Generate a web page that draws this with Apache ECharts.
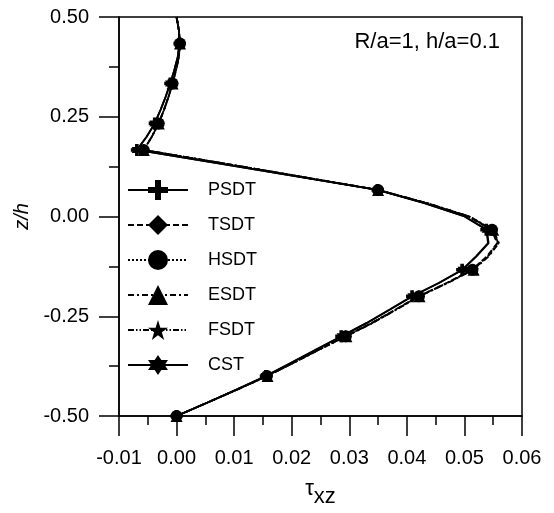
<!DOCTYPE html>
<html>
<head>
<meta charset="utf-8">
<script src="https://cdn.jsdelivr.net/npm/echarts@6/dist/echarts.min.js"></script>
<style>html,body{margin:0;padding:0;background:#fff;}#c{width:554px;height:513px;}</style>
</head>
<body>
<div id="c"></div>
<script>
// z/h sample positions (shared by all series)
const zValues = [0.5, 0.4667, 0.4333, 0.4, 0.3667, 0.3333, 0.3, 0.2667, 0.2333, 0.2, 0.1667,
  0.1333, 0.1, 0.0667, 0.0333, 0, -0.0333, -0.0667, -0.1, -0.1333, -0.1667, -0.2,
  -0.2333, -0.2667, -0.3, -0.3333, -0.3667, -0.4, -0.4333, -0.4667, -0.5];
// z/h levels where markers are drawn
const markerZ = [0.4333, 0.3333, 0.2333, 0.1667, 0.0667, -0.0333, -0.1333, -0.2, -0.3, -0.4, -0.5];
// tau_xz values for each theory
const psdt = [0.0000, 0.0004, 0.0005, 0.0002, -0.0004, -0.0011, -0.0019, -0.0028, -0.0038, -0.0052, -0.0069,
  0.0073, 0.0211, 0.0349, 0.0430, 0.0500, 0.0538, 0.0541, 0.0520, 0.0496, 0.0455, 0.0409,
  0.0370, 0.0330, 0.0286, 0.0242, 0.0199, 0.0155, 0.0105, 0.0053, 0.0000];
const tsdt = [0.0000, 0.0004, 0.0006, 0.0004, -0.0001, -0.0007, -0.0014, -0.0022, -0.0031, -0.0043, -0.0057,
  0.0081, 0.0215, 0.0350, 0.0434, 0.0507, 0.0547, 0.0557, 0.0539, 0.0513, 0.0469, 0.0420,
  0.0380, 0.0339, 0.0293, 0.0247, 0.0202, 0.0157, 0.0106, 0.0053, 0.0000];
const hsdt = [0.0000, 0.0004, 0.0006, 0.0004, -0.0001, -0.0007, -0.0014, -0.0022, -0.0031, -0.0043, -0.0057,
  0.0081, 0.0215, 0.0350, 0.0435, 0.0508, 0.0548, 0.0558, 0.0540, 0.0514, 0.0470, 0.0421,
  0.0381, 0.0340, 0.0294, 0.0248, 0.0203, 0.0157, 0.0106, 0.0053, 0.0000];
const esdt = [0.0000, 0.0004, 0.0006, 0.0004, -0.0001, -0.0007, -0.0014, -0.0022, -0.0031, -0.0043, -0.0057,
  0.0081, 0.0215, 0.0350, 0.0436, 0.0509, 0.0550, 0.0560, 0.0542, 0.0516, 0.0471, 0.0422,
  0.0382, 0.0341, 0.0295, 0.0249, 0.0203, 0.0158, 0.0106, 0.0053, 0.0000];
const fsdt = [0.0000, 0.0004, 0.0006, 0.0004, -0.0001, -0.0007, -0.0014, -0.0022, -0.0031, -0.0043, -0.0057,
  0.0081, 0.0215, 0.0350, 0.0435, 0.0508, 0.0549, 0.0559, 0.0541, 0.0515, 0.0470, 0.0421,
  0.0381, 0.0340, 0.0294, 0.0248, 0.0203, 0.0157, 0.0106, 0.0053, 0.0000];
const cst = [0.0000, 0.0004, 0.0005, 0.0002, -0.0004, -0.0011, -0.0019, -0.0028, -0.0038, -0.0052, -0.0069,
  0.0073, 0.0211, 0.0349, 0.0431, 0.0501, 0.0539, 0.0542, 0.0521, 0.0497, 0.0456, 0.0410,
  0.0371, 0.0331, 0.0287, 0.0243, 0.0199, 0.0155, 0.0105, 0.0053, 0.0000];
const seriesNames = ['PSDT', 'TSDT', 'HSDT', 'ESDT', 'FSDT', 'CST'];
const xTicks = ['-0.01', '0.00', '0.01', '0.02', '0.03', '0.04', '0.05', '0.06'];
const yTicks = ['-0.50', '-0.25', '0.00', '0.25', '0.50'];

const FONT = '"Liberation Sans", Arial, sans-serif';
const SYM = {
  plus: 'path://M-3,-10H3V-3H10V3H3V10H-3V3H-10V-3H-3Z',
  star: 'path://M0,-10L2.245,-3.09L9.511,-3.09L3.633,1.18L5.878,8.09L0,3.82L-5.878,8.09L-3.633,1.18L-9.511,-3.09L-2.245,-3.09Z',
  hexa: 'path://M0,-10L2.887,-5L8.66,-5L5.774,0L8.66,5L2.887,5L0,10L-2.887,5L-8.66,5L-5.774,0L-8.66,-5L-2.887,-5Z'
};
const styles = [
  {vals: psdt, symbol: SYM.plus, type: 'solid'},
  {vals: tsdt, symbol: 'diamond', type: [6, 3]},
  {vals: hsdt, symbol: 'circle', type: [2, 2]},
  {vals: esdt, symbol: 'triangle', type: [6, 3, 2, 3]},
  {vals: fsdt, symbol: SYM.star, type: [6, 2, 1.5, 2, 1.5, 2]},
  {vals: cst, symbol: SYM.hexa, type: 'solid'}
];

function isMarker(z) { return markerZ.some(m => Math.abs(m - z) < 1e-6); }

const series = styles.map((s, i) => ({
  name: seriesNames[i],
  type: 'line',
  symbol: s.symbol,
  symbolSize: 12,
  symbolKeepAspect: true,
  showAllSymbol: true,
  smooth: false,
  animation: false,
  lineStyle: {color: '#000', width: 1.8, type: s.type},
  itemStyle: {color: '#000'},
  data: zValues.map((z, k) => isMarker(z)
    ? {value: [s.vals[k], z]}
    : {value: [s.vals[k], z], symbol: 'none'})
}));

const chart = echarts.init(document.getElementById('c'));
chart.setOption({
  animation: false,
  backgroundColor: '#fff',
  textStyle: {fontFamily: FONT, color: '#000'},
  grid: {left: 119, right: 32, top: 17, bottom: 94, show: true, borderColor: '#000', borderWidth: 1.5, backgroundColor: 'transparent'},
  legend: {
    orient: 'vertical', left: 122, top: 175,
    itemWidth: 60, itemHeight: 25, itemGap: 15,
    data: seriesNames,
    textStyle: {fontFamily: FONT, fontSize: 18, color: '#000', padding: [0, 0, 0, 15]}
  },
  graphic: [{
    type: 'text', right: 54, top: 31,
    style: {text: 'R/a=1, h/a=0.1', font: '22px ' + FONT, fill: '#000'}
  }],
  xAxis: {
    type: 'value', min: -0.01, max: 0.06, interval: 0.01,
    name: '{t|τ}{s|xz}', nameLocation: 'middle', nameGap: 62,
    nameTextStyle: {
      rich: {
        t: {fontFamily: FONT, fontSize: 22, lineHeight: 22, verticalAlign: 'top', color: '#000'},
        s: {fontFamily: FONT, fontSize: 22, lineHeight: 30, verticalAlign: 'bottom', color: '#000'}
      }
    },
    axisLine: {onZero: false, lineStyle: {color: '#000', width: 1.5}},
    axisTick: {inside: false, length: 20, lineStyle: {color: '#000', width: 1.5}},
    minorTick: {show: true, splitNumber: 2, length: 9, lineStyle: {color: '#000', width: 1.5}},
    splitLine: {show: false},
    axisLabel: {margin: 32, fontSize: 20, color: '#000', fontFamily: FONT,
      formatter: v => xTicks[Math.round((v + 0.01) / 0.01)]}
  },
  yAxis: {
    type: 'value', min: -0.5, max: 0.5, interval: 0.25,
    name: 'z/h', nameLocation: 'middle', nameRotate: 90, nameGap: 82,
    nameTextStyle: {fontFamily: FONT, fontSize: 20, fontStyle: 'italic', color: '#000'},
    axisLine: {onZero: false, lineStyle: {color: '#000', width: 1.5}},
    axisTick: {inside: false, length: 20, lineStyle: {color: '#000', width: 1.5}},
    minorTick: {show: true, splitNumber: 2, length: 10, lineStyle: {color: '#000', width: 1.5}},
    splitLine: {show: false},
    axisLabel: {margin: 30, fontSize: 20, color: '#000', fontFamily: FONT,
      formatter: v => yTicks[Math.round((v + 0.5) / 0.25)]}
  },
  series: series
});
</script>
</body>
</html>
